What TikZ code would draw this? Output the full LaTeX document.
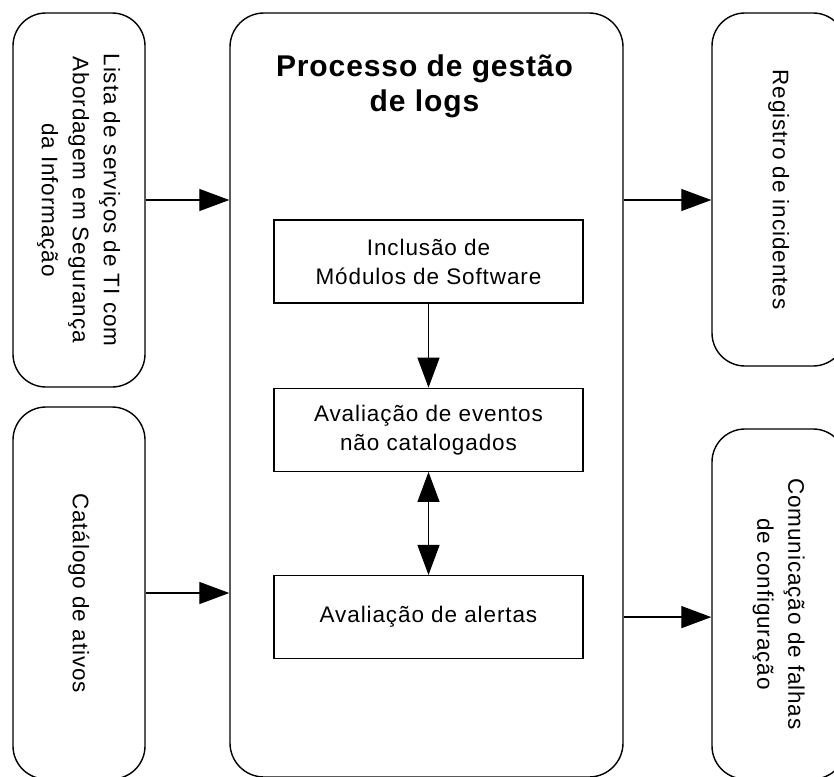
\documentclass[tikz,border=0pt]{standalone}
\usepackage{fontspec}
\setmainfont{Liberation Sans}
\newfontfamily\boxFont[LetterSpace=4]{Liberation Sans}
\newfontfamily\titleFont[LetterSpace=3]{Liberation Sans Bold}
\usetikzlibrary{positioning,arrows.meta}
\newcommand{\sideText}[1]{\rotatebox{-90}{\begin{tabular}{@{}c@{}}#1\end{tabular}}}
\tikzset{%
  sourceBox/.style={%
    rectangle,
    rounded corners=33pt,
    draw=black,
    fill=white,
    line width=1.4pt,
    inner sep=0pt,
    minimum width=132pt,
    font=\boxFont\fontsize{22.5}{31}\selectfont
  },
  processBox/.style={%
    rectangle,
    rounded corners=34pt,
    draw=black,
    fill=white,
    line width=1.4pt,
    minimum width=393pt,
    minimum height=764pt
  },
  stepBox/.style={%
    rectangle,
    draw=black,
    fill=white,
    line width=1.3pt,
    minimum width=309pt,
    minimum height=83pt,
    inner sep=0pt,
    align=center,
    font=\boxFont\fontsize{22.5}{29}\selectfont
  },
  titleText/.style={%
    inner sep=0pt,
    align=center,
    font=\titleFont\fontsize{30}{35}\selectfont
  },
  arrowLine/.style={%
    -{Triangle[length=30pt,width=22pt]},
    line width=1.3pt,
    color=black
  },
  doubleArrow/.style={%
    {Triangle[length=30pt,width=22pt]}-{Triangle[length=30pt,width=22pt]},
    line width=1.3pt,
    color=black
  }
}

\begin{document}
\begin{tikzpicture}[x=1pt, y=-1pt]
  \useasboundingbox (0,0) rectangle (834,776);
  \clip (0,0) rectangle (834,776);
  \fill[white] (0,0) rectangle (834,776);

  \node[processBox] (processo) at (426.5,395) {};
  \node[titleText, below=42pt of processo.north, xshift=-2pt] (titulo) {Processo de gestão\\de logs};
  \node[stepBox] (inclusao) at (428.5,261.5) {Inclusão de\\Módulos de Software};
  \node[stepBox, below=84pt of inclusao] (eventos) {Avaliação de eventos\\não catalogados};
  \node[stepBox, below=103pt of eventos] (alertas) {Avaliação de alertas};

  \node[sourceBox, minimum height=374pt] (lista) at (79,200) {\sideText{Lista de serviços de TI com\\Abordagem em Segurança\\da Informação}};
  \node[sourceBox, minimum height=372pt] (catalogo) at (79,593) {\sideText{Catálogo de ativos}};
  \node[sourceBox, minimum width=134pt, minimum height=353pt] (registro) at (779,189.5) {\sideText{Registro de incidentes}};
  \node[sourceBox, minimum width=134pt, minimum height=350pt] (falhas) at (779,604) {\sideText{Comunicação de falhas\\de configuração}};

  \draw[arrowLine] (lista) -- (lista -| processo.west);
  \draw[arrowLine] (catalogo) -- (catalogo -| processo.west);
  \draw[arrowLine] (processo.east |- lista) -- (registro.west |- lista);
  \draw[arrowLine] (processo.east |- alertas) -- (falhas.west |- alertas);

  \draw[arrowLine] (inclusao) -- (eventos);
  \draw[doubleArrow] (eventos) -- (alertas);
\end{tikzpicture}
\end{document}
